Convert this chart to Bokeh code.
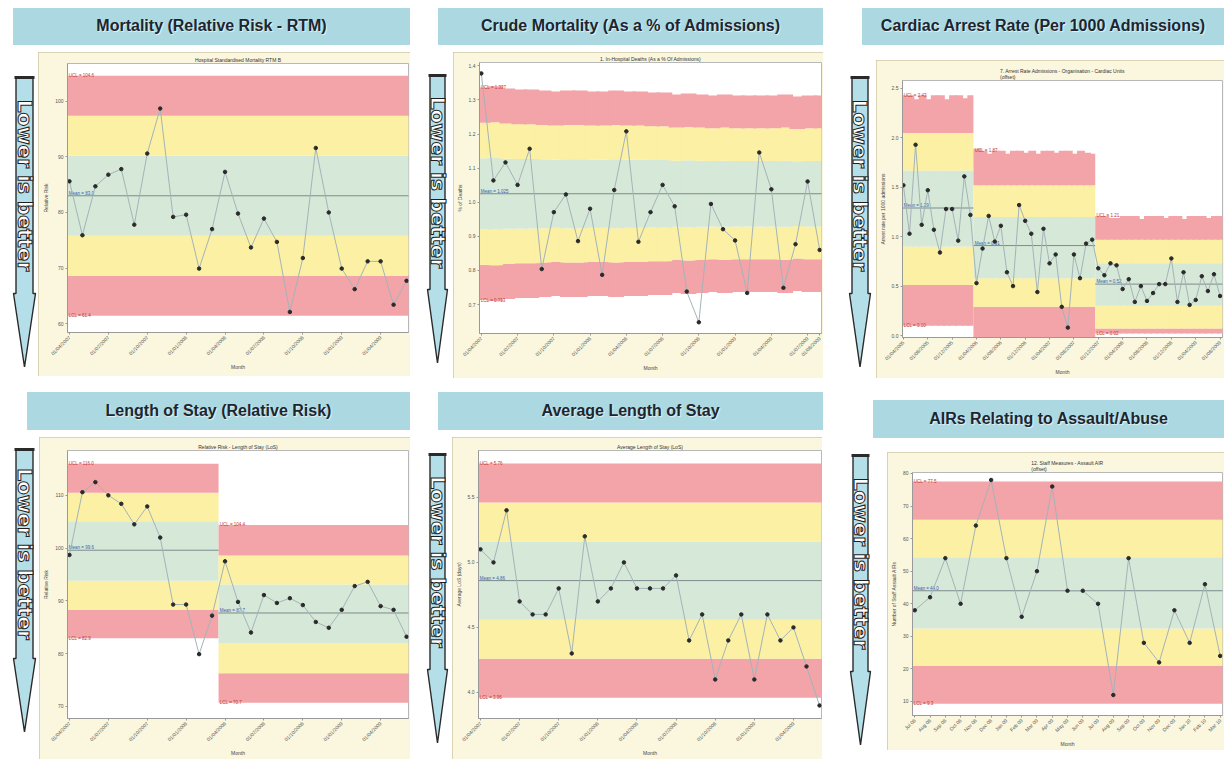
import math
import pandas as pd
from bokeh.plotting import figure
from bokeh.models import Range1d, FixedTicker, Div, PrintfTickFormatter
from bokeh.layouts import row, column
from bokeh.core.properties import value
from bokeh.embed import file_html
from bokeh.resources import INLINE

# ---------------- data ----------------
panel_titles = ["Mortality (Relative Risk - RTM)", "Crude Mortality (As a % of Admissions)",
                "Cardiac Arrest Rate (Per 1000 Admissions)", "Length of Stay (Relative Risk)",
                "Average Length of Stay", "AIRs Relating to Assault/Abuse"]
chart_titles = ["Hospital Standardised Mortality RTM B",
                "1. In-Hospital Deaths (As a % Of Admissions)",
                "7. Arrest Rate Admissions - Organisation - Cardiac Units\n(offset)",
                "Relative Risk - Length of Stay (LoS)",
                "Average Length of Stay (LoS)",
                "12. Staff Measures - Assault AIR\n(offset)"]
y_labels = ["Relative Risk", "% of Deaths", "Arrest rate per 1000 admissions",
            "Relative Risk", "Average LoS (days)", "Number of Staff Assault AIRs"]
arrow_text = "Lower is better"

# 1. Mortality relative risk
mort_rr = [85.6, 75.9, 84.7, 86.8, 87.8, 77.8, 90.6, 98.7, 79.2, 79.6, 69.9, 77.0, 87.3, 79.8,
           73.7, 78.9, 74.7, 62.1, 71.8, 91.6, 80.0, 69.9, 66.2, 71.2, 71.2, 63.4, 67.7]
mort_mean = [83.0]
mort_limits = [[61.4, 68.6, 75.8, 90.2, 97.4, 104.6]]
mort_segments = [(0, 26)]
mort_yticks = [60, 70, 80, 90, 100]

# 2. Crude mortality %
crude = [1.378, 1.064, 1.117, 1.051, 1.157, 0.804, 0.971, 1.023, 0.886, 0.981, 0.787, 1.036,
         1.208, 0.884, 0.971, 1.051, 0.988, 0.738, 0.648, 0.995, 0.921, 0.888, 0.734, 1.146,
         1.038, 0.749, 0.877, 1.061, 0.860]
crude_mean = 1.025
crude_sigma_step = [0.104, 0.105, 0.103, 0.102, 0.102, 0.101, 0.100, 0.101, 0.101, 0.100,
                    0.100, 0.101, 0.100, 0.100, 0.099, 0.099, 0.097, 0.098, 0.097, 0.096,
                    0.097, 0.096, 0.096, 0.096, 0.096, 0.097, 0.095, 0.096, 0.096]
crude_yticks = [0.7, 0.8, 0.9, 1.0, 1.1, 1.2, 1.3, 1.4]

# 3. Cardiac arrest rate (three periods)
cardiac = [1.52, 1.03, 1.93, 1.12, 1.47, 1.07, 0.84, 1.28, 1.28, 0.96, 1.61, 1.22,
           0.53, 0.88, 1.21, 0.95, 1.11, 0.64, 0.50, 1.32, 1.16, 1.03, 0.44, 1.08, 0.73, 0.82,
           0.29, 0.08, 0.82, 0.58, 0.93, 0.97,
           0.68, 0.61, 0.73, 0.71, 0.47, 0.57, 0.34, 0.50, 0.35, 0.43, 0.52, 0.52, 0.78, 0.34,
           0.64, 0.31, 0.36, 0.60, 0.45, 0.62, 0.40]
cardiac_segments = [(0, 11), (12, 31), (32, 52)]
cardiac_mean = [1.29, 0.91, 0.52]
cardiac_limits = [[0.10, 0.51, 0.90, 1.67, 2.05, 2.43],
                  [-0.05, 0.29, 0.58, 1.20, 1.52, 1.87],
                  [0.02, 0.07, 0.30, 0.73, 0.97, 1.21]]
# month-to-month wobble of the outer upper limit (the notched top edge)
cardiac_ucl_wobble = [0, 0, -0.04, 0, -0.04, 0, 0, -0.04, 0, 0, -0.03, 0,
                      0.02, 0, -0.03, 0, 0, -0.03, 0, 0, -0.02, 0, -0.03, 0, 0, -0.02, 0, 0,
                      -0.03, 0, -0.02, -0.03,
                      0, 0, -0.02, -0.02, 0, 0, 0, -0.03, 0, 0, 0, -0.02, 0, 0, -0.03, 0, 0, 0,
                      -0.02, 0, 0]
cardiac_yticks = [0.0, 0.5, 1.0, 1.5, 2.0, 2.5]

# 4. Length of stay relative risk (two periods)
los_rr = [98.7, 110.6, 112.5, 110.0, 108.4, 104.5, 107.9, 102.0, 89.3, 89.3, 79.9, 87.2,
          97.5, 89.8, 84.0, 91.1, 89.6, 90.5, 89.2, 86.0, 84.9, 88.3, 92.8, 93.6, 89.0, 88.3, 83.2]
los_segments = [(0, 11), (12, 26)]
los_mean = [99.6, 87.7]
los_limits = [[82.9, 88.3, 93.8, 105.1, 110.5, 116.0],
              [70.7, 76.3, 82.0, 93.1, 98.6, 104.4]]
los_yticks = [70, 80, 90, 100, 110]

# 5. Average length of stay (days)
avg_los = [5.1, 5.0, 5.4, 4.7, 4.6, 4.6, 4.8, 4.3, 5.2, 4.7, 4.8, 5.0, 4.8, 4.8, 4.8, 4.9,
           4.4, 4.6, 4.1, 4.4, 4.6, 4.1, 4.6, 4.4, 4.5, 4.2, 3.9]
avg_los_mean = [4.86]
avg_los_limits = [[3.96, 4.26, 4.56, 5.16, 5.46, 5.76]]
avg_los_segments = [(0, 26)]
avg_los_yticks = [4.0, 4.5, 5.0, 5.5]

# 6. AIRs assault / abuse
airs = [38, 42, 54, 40, 64, 78, 54, 36, 50, 76, 44, 44, 40, 12, 54, 28, 22, 38, 28, 46, 24]
airs_mean = [44.0]
airs_limits = [[9.3, 20.9, 32.4, 54.3, 65.8, 77.5]]
airs_segments = [(0, 20)]
airs_yticks = [10, 20, 30, 40, 50, 60, 70, 80]

month_labels_a = list(pd.date_range("2007-04-01", periods=29, freq="MS").strftime("%d/%m/%Y"))
month_labels_c = list(pd.date_range("2005-04-01", periods=53, freq="MS").strftime("%d/%m/%Y"))
month_labels_f = list(pd.date_range("2008-07-01", periods=21, freq="MS").strftime("%b %y"))

# ---------------- styling ----------------
RED = "#f3a4a9"
YEL = "#fbf0a3"
GRN = "#d6e8d7"
CREAM = "#fbf7de"
BANNER = "#acd9e1"
FONT = "Liberation Sans"


def banner(text, w, h, mt, ml):
    html = (f'<div style="width:{w}px;height:{h}px;background:{BANNER};display:flex;'
            f'align-items:center;justify-content:center;font-family:\'{FONT}\',Arial,sans-serif;'
            f'font-weight:bold;font-size:16px;color:#1c2630;'
            f'text-shadow:1px 1px 1px rgba(255,255,255,0.7);">{text}</div>')
    return Div(text=html, width=w, height=h, margin=(mt, 0, 0, ml))


def arrow(w, h, mt, ml, a0, a1):
    """Decorative 'Lower is better' arrow; a0..a1 is its horizontal extent in px."""
    p = figure(width=w, height=h, x_range=Range1d(0, w), y_range=Range1d(0, h),
               toolbar_location=None, output_backend="svg", min_border=0,
               x_axis_location=None, y_axis_location=None, title=None,
               margin=(mt, 0, 0, ml), background_fill_color="white", frame_align=False,
               border_fill_color="white", outline_line_color=None)
    p.grid.visible = False
    head = 74
    s0, s1 = a0 + 2.5, a1 - 2.5
    top = h - 2
    xs = [s0, s1, s1, a1, (a0 + a1) / 2, a0, s0]
    ys = [top, top, head, head, 0.5, head, head]
    p.patch(xs, ys, fill_color="#b5dfe8", line_color="#2a2a2a", line_width=1.4)
    p.segment(x0=[a0 + 1], x1=[a1 - 1], y0=[top], y1=[top], line_color="#2a2a2a", line_width=3)
    p.text(x=[(a0 + a1) / 2], y=[head + (top - head) * 0.5], text=[arrow_text],
           angle=-math.pi / 2, text_align="center", text_baseline="middle",
           text_font=value("DejaVu Sans"), text_font_style="bold",
           text_font_size="20px", text_color="white", text_outline_color="#1e1e1e")
    return p


def chart(title, ylabel, vals, labels, ticks, yr, yticks, yfmt, band_l, band_r, lims,
          seg_l, seg_r, means, seg_lims, w, h, borders, ml, lab_fmt, xr=None):
    n = len(vals)
    xs = list(range(n))
    if xr is None:
        xr = (-0.15, n - 1 + 0.15)
    p = figure(width=w, height=h, x_range=Range1d(*xr), y_range=Range1d(*yr),
               toolbar_location=None, output_backend="svg", frame_align=False,
               min_border_left=borders[0], min_border_right=borders[1],
               min_border_top=borders[2], min_border_bottom=borders[3],
               margin=(0, 0, 0, ml), background_fill_color="white",
               border_fill_color=CREAM, outline_line_color="#b8b8b8", title=title,
               styles={"outline": "1px solid #cfc9a6", "outline-offset": "-1px"})
    p.title.text_font_size = "5px"
    p.title.text_font_style = "normal"
    p.title.align = "center"
    p.title.standoff = 2
    p.title.text_color = "#333"
    p.title.text_font = FONT

    l3 = [l[0] for l in lims]; l2 = [l[1] for l in lims]; l1 = [l[2] for l in lims]
    u1 = [l[3] for l in lims]; u2 = [l[4] for l in lims]; u3 = [l[5] for l in lims]
    for b, t, c in ((l3, l2, RED), (l2, l1, YEL), (l1, u1, GRN), (u1, u2, YEL), (u2, u3, RED)):
        p.quad(left=band_l, right=band_r, bottom=b, top=t, fill_color=c, line_color=None)

    p.segment(x0=seg_l, x1=seg_r, y0=means, y1=means, line_color="#7e8b8e", line_width=1)

    span = (xr[1] - xr[0]) / 26
    lab_x = [max(a, xr[0]) + 0.1 * span for a in seg_l]
    ucl = [sl[5] for sl in seg_lims]
    lcl = [sl[0] for sl in seg_lims]
    p.text(x=lab_x, y=means, text=[("Mean = " + lab_fmt) % m for m in means],
           text_font_size="4.5px", text_color="#3d62b0", text_baseline="bottom",
           text_font=value(FONT))
    p.text(x=lab_x, y=ucl, text=[("UCL = " + lab_fmt) % v for v in ucl], text_font_size="4.5px",
           text_color="#c0392b", text_baseline="middle", text_font=value(FONT))
    p.text(x=lab_x, y=lcl, text=[("LCL = " + lab_fmt) % v for v in lcl], text_font_size="4.5px",
           text_color="#c0392b", text_baseline="middle", text_font=value(FONT))

    p.line(xs, vals, line_color="#a3b3b8", line_width=1)
    p.scatter(xs, vals, size=3.5, fill_color="#2a2a2a", line_color="#2a2a2a")

    p.grid.visible = False
    p.xaxis.ticker = FixedTicker(ticks=ticks)
    p.xaxis.major_label_overrides = {t: labels[t] for t in ticks}
    p.xaxis.major_label_orientation = math.pi / 4
    p.yaxis.ticker = FixedTicker(ticks=yticks)
    p.yaxis.formatter = PrintfTickFormatter(format=yfmt)
    p.axis.major_label_text_font_size = "5px"
    p.axis.major_label_text_color = "#555"
    p.axis.major_label_text_font = FONT
    p.axis.axis_label_text_font_size = "5px"
    p.axis.axis_label_text_font_style = "normal"
    p.axis.axis_label_text_color = "#444"
    p.axis.axis_label_text_font = FONT
    p.axis.axis_label_standoff = 3
    p.axis.major_label_standoff = 2
    p.axis.major_tick_out = 2
    p.axis.major_tick_in = 0
    p.axis.minor_tick_line_color = None
    p.axis.axis_line_color = "#999"
    p.axis.major_tick_line_color = "#999"
    p.xaxis.axis_label = "Month"
    p.yaxis.axis_label = ylabel
    return p


def seg_bounds(segs):
    return [s[0] - 0.5 for s in segs], [s[1] + 0.5 for s in segs]


def cells(n):
    # month cells, slightly overlapping so that no hairline seams show
    return [i - 0.5 for i in range(n)], [i + 0.5 + (0.3 if i < n - 1 else 0) for i in range(n)]


# panel 1
bl, br = seg_bounds(mort_segments)
c1 = chart(chart_titles[0], y_labels[0], mort_rr, month_labels_a, list(range(0, 27, 3)),
           (58.4, 106.8), mort_yticks, "%d", bl, br, mort_limits, bl, br, mort_mean, mort_limits,
           372, 324, (29, 2, 11, 44), 0, "%.1f")
# panel 2 (month-by-month limits)
cl, cr = cells(len(crude))
crude_lims = [[crude_mean + k * s for k in (-3, -2, -1, 1, 2, 3)] for s in crude_sigma_step]
c2 = chart(chart_titles[1], y_labels[1], crude, month_labels_a, list(range(0, 29, 3)) + [28],
           (0.615, 1.41), crude_yticks, "%.1f", cl, cr, crude_lims, [-0.5], [28.5],
           [crude_mean], crude_lims[:1], 370, 326, (25, 2, 10, 45), 0, "%.3f")
# panel 3 (per-month cells, limits from the period they belong to)
bl, br = seg_bounds(cardiac_segments)
card_l, card_r = cells(len(cardiac))
card_lims = []
for i in range(len(cardiac)):
    s = [k for k, (a, b) in enumerate(cardiac_segments) if a <= i <= b][0]
    if i == cardiac_segments[s][1]:
        card_r[i] = i + 0.5
    lim = list(cardiac_limits[s])
    lim[5] += cardiac_ucl_wobble[i]
    card_lims.append(lim)
c3 = chart(chart_titles[2], y_labels[2], cardiac, month_labels_c, list(range(0, 53, 4)),
           (-0.02, 2.58), cardiac_yticks, "%.1f", card_l, card_r, card_lims, bl, br,
           cardiac_mean, cardiac_limits, 348, 318, (26, 2, 20, 38), 0, "%.2f", xr=(-0.15, 52.4))
# panel 4
bl, br = seg_bounds(los_segments)
c4 = chart(chart_titles[3], y_labels[3], los_rr, month_labels_a, list(range(0, 27, 3)),
           (67.7, 118.5), los_yticks, "%d", bl, br, los_limits, bl, br, los_mean, los_limits,
           371, 322, (28, 2, 13, 39), 0, "%.1f")
# panel 5
bl, br = seg_bounds(avg_los_segments)
c5 = chart(chart_titles[4], y_labels[4], avg_los, month_labels_a, list(range(0, 27, 3)),
           (3.80, 5.86), avg_los_yticks, "%.1f", bl, br, avg_los_limits, bl, br, avg_los_mean,
           avg_los_limits, 370, 322, (26, 1, 13, 41), 0, "%.2f")
# panel 6
bl, br = seg_bounds(airs_segments)
c6 = chart(chart_titles[5], y_labels[5], airs, month_labels_f, list(range(0, 21)),
           (5.7, 80.3), airs_yticks, "%d", bl, br, airs_limits, bl, br, airs_mean, airs_limits,
           337, 298, (25, 2, 20, 23), 11, "%.1f")

col1 = column(
    banner(panel_titles[0], 397, 37, 0, 4),
    row(arrow(29, 292, 23, 0, 4, 26), c1, margin=(7, 0, 0, 0)),
    banner(panel_titles[3], 383, 38, 16, 18),
    row(arrow(30, 285, 10, 0, 4, 26), c4, margin=(7, 0, 0, 0)),
    margin=(0, 0, 0, 1))
col2 = column(
    banner(panel_titles[1], 385, 37, 0, 15),
    row(arrow(30, 290, 21, 0, 4, 24), c2, margin=(7, 0, 0, 0)),
    banner(panel_titles[4], 385, 38, 14, 15),
    row(arrow(29, 291, 15, 0, 4, 24), c5, margin=(7, 0, 0, 0)),
    margin=(0, 0, 0, 13))
col3 = column(
    banner(panel_titles[2], 362, 37, 0, 16),
    row(arrow(30, 292, 15, 0, 3, 24), c3, margin=(15, 0, 0, 0)),
    banner(panel_titles[5], 351, 38, 22, 27),
    row(arrow(30, 292, 1, 0, 4, 24), c6, margin=(14, 0, 0, 0)),
    margin=(0, 0, 0, 23))

layout = row(col1, col2, col3, margin=(8, 0, 0, 8))
open("out.html", "w").write(file_html(layout, INLINE))
